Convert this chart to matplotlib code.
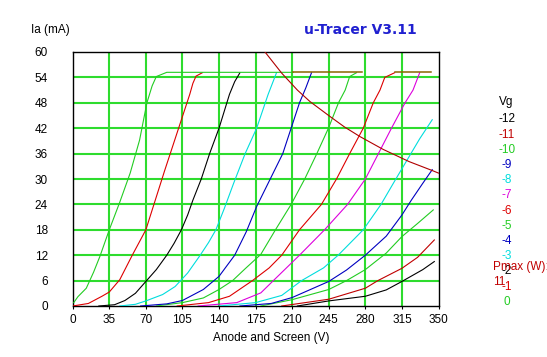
import matplotlib
matplotlib.use("Agg")
import matplotlib.pyplot as plt

# ---------------- data ----------------
vg_labels = ["-12", "-11", "-10", "-9", "-8", "-7", "-6", "-5", "-4", "-3", "-2", "-1", "0"]
vg_colors = ["#000000", "#c00000", "#22cc22", "#0000c0", "#00dddd", "#dd00dd", "#dd0000",
             "#22cc22", "#0000c0", "#00dddd", "#000000", "#dd0000", "#22cc22"]

v_0 = [1, 5, 13, 20, 26, 35, 45, 55, 64, 71, 76, 80, 90, 211]
i_0 = [0.8, 2.2, 4.2, 8, 11.7, 18, 24.5, 31.4, 39.2, 48, 52, 54.2, 55.2, 55.2]
v_m1 = [0, 15, 28, 35, 45, 57, 70, 79, 88, 96, 104, 112, 115, 118, 124]
i_m1 = [0, 0.6, 2.3, 3.3, 6.2, 12, 18, 25, 32, 38, 44, 50, 52.6, 54.3, 55.1]
v_m2 = [25, 40, 50, 60, 70, 80, 90, 97, 104, 110, 115, 123, 131, 140, 150, 155, 160]
i_m2 = [0, 0.3, 1.3, 3, 5.8, 8.6, 12, 14.8, 18, 21.5, 25, 30, 36, 42, 50, 53, 55.1]
v_m3 = [45, 60, 70, 86, 98, 110, 122, 130, 137, 145, 154, 165, 176, 187, 195]
i_m3 = [0, 0.4, 1.2, 2.7, 4.6, 7.8, 12, 15, 18, 23, 29, 36, 42, 50, 55.1]
v_m4 = [65, 90, 105, 125, 140, 155, 166, 176, 190, 201, 209, 217, 223, 228.5]
i_m4 = [0, 0.5, 1.3, 3.9, 7, 12, 17.5, 23.5, 30.5, 36, 42, 48, 51.5, 55.1]
v_m5 = [80, 105, 125, 140, 153, 165, 180, 194, 209, 222, 233.6, 244.7, 254.3, 260.7, 265, 271.5]
i_m5 = [0, 0.8, 1.9, 3.9, 6, 8.8, 12.2, 18, 24, 30, 36, 42, 48, 51, 54.2, 55.1]
v_m6 = [100, 130, 150, 172, 188, 200, 217, 238, 252.4, 265, 278, 287.6, 294, 298.6, 308]
i_m6 = [0, 0.8, 2.3, 6, 9, 12, 18, 24, 30, 36, 42, 48, 51, 54, 55.1]
v_m7 = [120, 157, 180, 192, 217, 241, 263, 280, 292.5, 305, 318, 325.6, 332]
i_m7 = [0, 0.8, 3.1, 6, 12, 18, 24, 30, 36, 42, 48, 51, 55.1]
v_m8 = [140, 175, 200, 219, 240, 254, 278, 295, 308, 320, 332, 344]
i_m8 = [0, 0.8, 2.5, 6, 9, 12, 18, 24, 29.5, 34.5, 39.5, 44]
v_m9 = [160, 190, 210, 245, 262, 280, 300, 315, 324, 335, 344]
i_m9 = [0, 0.6, 2, 5.8, 8.5, 12, 16.5, 21.5, 25, 29, 32.2]
v_m10 = [180, 210, 245, 262, 280, 300, 315, 330, 345]
i_m10 = [0, 1.5, 3.9, 6, 8.6, 12.5, 16.4, 19.5, 22.7]
v_m11 = [200, 245, 280, 292, 315, 330, 346]
i_m11 = [0, 1.6, 4.2, 6, 8.9, 11.5, 15.6]
v_m12 = [215, 245, 280, 300, 315, 335, 346]
i_m12 = [0, 1.2, 2.3, 3.8, 5.8, 8.6, 10.5]

curves_v = [v_m12, v_m11, v_m10, v_m9, v_m8, v_m7, v_m6, v_m5, v_m4, v_m3, v_m2, v_m1, v_0]
curves_i = [i_m12, i_m11, i_m10, i_m9, i_m8, i_m7, i_m6, i_m5, i_m4, i_m3, i_m2, i_m1, i_0]

limit_v = [[211, 277], [308, 343]]
limit_i = 55.2

pmax_w = "11"
pmax_v = [184, 200, 215, 227, 246, 260, 275, 297, 322, 344, 350]
pmax_i = [60, 55, 51, 48.3, 44.8, 42.3, 40, 37, 34.1, 32, 31.4]

x_ticks = [0, 35, 70, 105, 140, 175, 210, 245, 280, 315, 350]
y_ticks = [0, 6, 12, 18, 24, 30, 36, 42, 48, 54, 60]

# ---------------- figure ----------------
W, H = 547, 357
fig = plt.figure(figsize=(W / 100, H / 100), dpi=100)
fig.patch.set_facecolor("white")
font = "Liberation Sans"

ax = fig.add_axes([72.7 / W, 1 - 306 / H, (438.5 - 72.7) / W, (306 - 52) / H])
ax.set_xlim(0, 350)
ax.set_ylim(0, 60)

for x in x_ticks[1:-1]:
    ax.axvline(x, color="#2edc2e", lw=1.5, zorder=1)
for y in y_ticks[1:-1]:
    ax.axhline(y, color="#2edc2e", lw=1.5, zorder=1)

for v, i, c in zip(curves_v, curves_i, vg_colors):
    ax.plot(v, i, color=c, lw=0.8, zorder=3)

for seg in limit_v:
    ax.plot(seg, [limit_i, limit_i], color="#8a6400", lw=1.1, zorder=4)

ax.plot(pmax_v, pmax_i, color="#b00000", lw=0.8, zorder=5, clip_on=True)

ax.set_xticks(x_ticks)
ax.set_yticks(y_ticks)
ax.tick_params(axis="both", length=2, width=0.8, color="black", labelsize=8.5, pad=4)
for lab in ax.get_xticklabels() + ax.get_yticklabels():
    lab.set_fontfamily(font)
ax.tick_params(axis="y", pad=18, length=0)
for lab in ax.get_yticklabels():
    lab.set_horizontalalignment("right")
for s in ax.spines.values():
    s.set_color("black")
    s.set_linewidth(1.0)

fig.text(271.5 / W, 1 - 338 / H, "Anode and Screen (V)", ha="center", va="center",
         fontsize=8.5, family=font)
fig.text(50 / W, 1 - 30.5 / H, "Ia (mA)", ha="center", va="center", fontsize=8.5, family=font)
fig.text(360 / W, 1 - 30 / H, "u-Tracer V3.11", ha="center", va="center", fontsize=10,
         color="#2020d0", fontweight="bold", family="DejaVu Sans")

# legend
fig.text(506 / W, 1 - 101.7 / H, "Vg", ha="center", va="center", fontsize=8.5, family=font)
y0 = 119.3
for k, (lab, c) in enumerate(zip(vg_labels, vg_colors)):
    fig.text(507 / W, 1 - (y0 + k * 15.2) / H, lab, ha="center", va="center",
             fontsize=8.5, family=font, color=c)
fig.text(492.7 / W, 1 - 266.7 / H, "Pmax (W):", ha="left", va="center", fontsize=8.5,
         family=font, color="#c00000")
fig.text(492.7 / W, 1 - 281.7 / H, pmax_w, ha="left", va="center", fontsize=8.5,
         family=font, color="#c00000")

fig.savefig("out.png", dpi=100)
